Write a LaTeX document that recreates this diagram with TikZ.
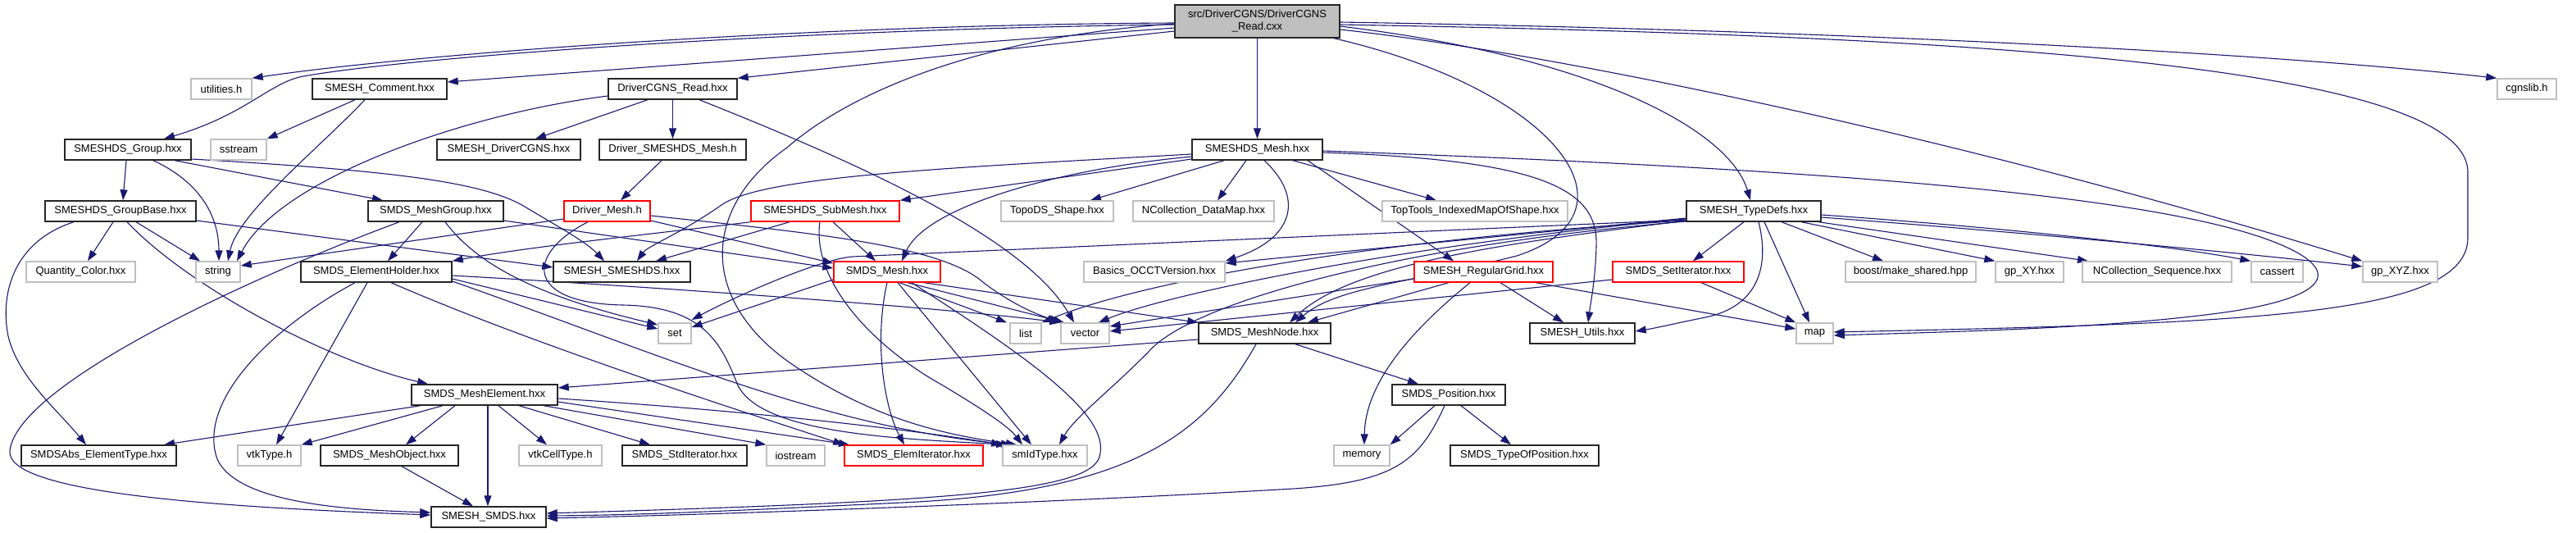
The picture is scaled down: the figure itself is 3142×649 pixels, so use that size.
\documentclass[tikz,border=0pt]{standalone}
\usepackage{fontspec}
\setmainfont{Liberation Sans}
\usetikzlibrary{arrows.meta}
\definecolor{edgec}{HTML}{191970}
\definecolor{grayb}{HTML}{BFBFBF}
\pgfdeclarelayer{bg}
\pgfsetlayers{bg,main}
\tikzset{
  nd/.style={draw=black!85, fill=white, line width=1.4pt, minimum height=25pt, inner sep=0pt,
    font=\fontsize{13}{15}\selectfont, text=black},
  gr/.style={nd, draw=grayb},
  rd/.style={nd, draw=red},
  e/.style={draw=edgec, line width=1.1pt, -{Triangle[length=13pt,width=9pt]}},
}
\begin{document}
\begin{tikzpicture}[x=1pt,y=-1pt]
\useasboundingbox (0,0) rectangle (3142,649);
% row 0
\node[nd, fill=grayb, minimum width=201pt, minimum height=40pt, align=center] (root) at (1533.5,26) {src/DriverCGNS/DriverCGNS\\\_Read.cxx};
% row 1
\node[gr, minimum width=74pt]  (util)    at (270,108.5)  {utilities.h};
\node[nd, minimum width=164pt] (comment) at (463,108.5)  {SMESH\_Comment.hxx};
\node[nd, minimum width=157pt] (dread)   at (820.5,108.5) {DriverCGNS\_Read.hxx};
\node[gr, minimum width=72pt]  (cgns)    at (3082,108.5) {cgnslib.h};
% row 2
\node[nd, minimum width=154pt] (group)   at (156,182.5)  {SMESHDS\_Group.hxx};
\node[gr, minimum width=68pt]  (sstream) at (291,182.5)  {sstream};
\node[nd, minimum width=175pt] (sdcgns)  at (620.5,182.5) {SMESH\_DriverCGNS.hxx};
\node[nd, minimum width=179pt] (dsm)     at (820.5,182.5) {Driver\_SMESHDS\_Mesh.h};
\node[nd, minimum width=159pt] (dsmesh)  at (1533.5,182.5) {SMESHDS\_Mesh.hxx};
% row 3
\node[nd, minimum width=184pt] (gbase)   at (147,257.5)  {SMESHDS\_GroupBase.hxx};
\node[nd, minimum width=165pt] (mgroup)  at (531.5,257.5) {SMDS\_MeshGroup.hxx};
\node[rd, minimum width=105pt] (dmesh)   at (740.5,257.5) {Driver\_Mesh.h};
\node[rd, minimum width=181pt] (submesh) at (1006.5,257.5) {SMESHDS\_SubMesh.hxx};
\node[gr, minimum width=137pt] (topods)  at (1289.5,257.5) {TopoDS\_Shape.hxx};
\node[gr, minimum width=172pt] (ncdm)    at (1468,257.5) {NCollection\_DataMap.hxx};
\node[gr, minimum width=226pt] (toptools) at (1799,257.5) {TopTools\_IndexedMapOfShape.hxx};
\node[nd, minimum width=164pt] (typedefs) at (2139,257.5) {SMESH\_TypeDefs.hxx};
% row 4
\node[gr, minimum width=133pt] (qcolor)  at (98.5,331.5) {Quantity\_Color.hxx};
\node[gr, minimum width=54pt]  (string)  at (266,331.5)  {string};
\node[nd, minimum width=184pt] (eholder) at (459,331.5)  {SMDS\_ElementHolder.hxx};
\node[nd, minimum width=167pt] (ssmeshds) at (758.5,331.5) {SMESH\_SMESHDS.hxx};
\node[rd, minimum width=130pt] (smesh)   at (1082,331.5) {SMDS\_Mesh.hxx};
\node[gr, minimum width=172pt] (occt)    at (1408,331.5) {Basics\_OCCTVersion.hxx};
\node[rd, minimum width=169pt] (rgrid)   at (1809.5,331.5) {SMESH\_RegularGrid.hxx};
\node[rd, minimum width=160pt] (setit)   at (2047,331.5) {SMDS\_SetIterator.hxx};
\node[gr, minimum width=159pt] (boost)   at (2330.5,331.5) {boost/make\_shared.hpp};
\node[gr, minimum width=83pt]  (gpxy)    at (2475.5,331.5) {gp\_XY.hxx};
\node[gr, minimum width=182pt] (ncseq)   at (2631,331.5) {NCollection\_Sequence.hxx};
\node[gr, minimum width=63pt]  (cassert) at (2777.5,331.5) {cassert};
\node[gr, minimum width=91pt]  (gpxyz)   at (2927.5,331.5) {gp\_XYZ.hxx};
% row 5
\node[gr, minimum width=40pt]  (set)     at (823,406.5)  {set};
\node[gr, minimum width=38pt]  (list)    at (1251,406.5) {list};
\node[gr, minimum width=59pt]  (vector)  at (1323.5,406.5) {vector};
\node[nd, minimum width=161pt] (mnode)   at (1542.5,406.5) {SMDS\_MeshNode.hxx};
\node[nd, minimum width=128pt] (utils)   at (1930,406.5) {SMESH\_Utils.hxx};
\node[gr, minimum width=45pt]  (map)     at (2213.5,406.5) {map};
% row 6
\node[nd, minimum width=178pt] (melem)   at (591,481.5)  {SMDS\_MeshElement.hxx};
\node[nd, minimum width=138pt] (pos)     at (1767,481.5) {SMDS\_Position.hxx};
% row 7
\node[nd, minimum width=189pt] (abs)     at (120.5,555.5) {SMDSAbs\_ElementType.hxx};
\node[gr, minimum width=77pt]  (vtktype) at (328.5,555.5) {vtkType.h};
\node[nd, minimum width=168pt] (mobj)    at (475,555.5)  {SMDS\_MeshObject.hxx};
\node[gr, minimum width=101pt] (vtkcell) at (683.5,555.5) {vtkCellType.h};
\node[nd, minimum width=152pt] (stdit)   at (835,555.5)  {SMDS\_StdIterator.hxx};
\node[gr, minimum width=71pt]  (iostream) at (970.5,555.5) {iostream};
\node[rd, minimum width=169pt] (elemit)  at (1114.5,555.5) {SMDS\_ElemIterator.hxx};
\node[gr, minimum width=103pt] (smid)    at (1274.5,555.5) {smIdType.hxx};
\node[gr, minimum width=68pt]  (memory)  at (1661,555.5) {memory};
\node[nd, minimum width=181pt] (typos)   at (1859.5,555.5) {SMDS\_TypeOfPosition.hxx};
% row 8
\node[nd, minimum width=140pt] (smds)    at (596,630.5) {SMESH\_SMDS.hxx};

\begin{pgfonlayer}{bg}
% root
\draw[e] (root.west|-0,28) .. controls (1000,30) and (520,64) .. (util.north east);
\draw[e] (root.west|-0,30) .. controls (950,36) and (500,70) .. (370,93) .. controls (330,100) and (300,140) .. (group.north -| 200,0);
\draw[e] (root.west|-0,34) -- (comment.east|-0,100);
\draw[e] (root.west|-0,38) -- (dread.north east);
\draw[e] (root) -- (dsmesh);
\draw[e] (root.west|-0,29) .. controls (1200,45) and (1040,110) .. (960,180) .. controls (860,250) and (850,360) .. (960,440) .. controls (1060,510) and (1150,530) .. (smid.north -| 1240,0);
\draw[e] (root.east|-0,32) .. controls (1950,70) and (2110,160) .. (typedefs.north -| 2135,0);
\draw[e] (root.east|-0,27) .. controls (2300,38) and (2800,68) .. (cgns.north west);
\draw[e] (root.east|-0,30) .. controls (2300,42) and (3010,70) .. (3010,210) -- (3010,290) .. controls (3010,385) and (2750,394) .. (map.east|-0,405);
\draw[e] (root.east|-0,36) .. controls (1900,65) and (2400,170) .. (gpxyz.north west);
\draw[e] (root.south -| 1627,0) .. controls (1900,110) and (2010,260) .. (1850,312) .. controls (1720,345) and (1630,350) .. (mnode.north -| 1580,0);
% comment
\draw[e] (comment.south -| 433,0) -- (sstream.north east);
\draw[e] (comment.south -| 445,0) .. controls (390,180) and (290,260) .. (string.north -| 278,0);
% dread
\draw[e] (dread.south -| 790,0) -- (sdcgns.north -| 653,0);
\draw[e] (dread) -- (dsm);
\draw[e] (dread.west|-0,117) .. controls (560,140) and (340,220) .. (string.north -| 289,0);
\draw[e] (dread.south -| 853,0) .. controls (1050,200) and (1250,290) .. (vector.north -| 1310,0);
% dsm
\draw[e] (dsm.south -| 807,0) -- (dmesh.north -| 757,0);
% dsmesh
\draw[e] (dsmesh.west|-0,188) .. controls (1150,205) and (930,215) .. (880,250) .. controls (830,285) and (790,300) .. (ssmeshds.north -| 777,0);
\draw[e] (dsmesh.west|-0,194) -- (submesh.north east);
\draw[e] (dsmesh.west|-0,191) .. controls (1300,205) and (1130,250) .. (smesh.north -| 1100,0);
\draw[e] (dsmesh.south -| 1493,0) -- (topods.north -| 1330,0);
\draw[e] (dsmesh.south -| 1520,0) -- (ncdm.north -| 1485,0);
\draw[e] (dsmesh.south -| 1577,0) -- (toptools.north -| 1752,0);
\draw[e] (dsmesh.south -| 1542,0) .. controls (1590,240) and (1580,290) .. (occt.north east);
\draw[e] (dsmesh.south -| 1595,0) -- (rgrid.north -| 1773,0);
\draw[e] (dsmesh.east|-0,186) .. controls (1880,195) and (1950,230) .. (1947,300) .. controls (1946,340) and (1940,370) .. (utils.north -| 1937,0);
\draw[e] (dsmesh.east|-0,184) .. controls (2200,205) and (2600,235) .. (2760,290) .. controls (2860,325) and (2850,360) .. (2720,380) .. controls (2580,400) and (2400,404) .. (map.east|-0,409);
% submesh
\draw[e] (submesh.south west) .. controls (800,285) and (650,300) .. (eholder.north east);
\draw[e] (submesh.south -| 963,0) -- (ssmeshds.north -| 800,0);
\draw[e] (submesh.south -| 1016,0) -- (smesh.north -| 1068,0);
\draw[e] (submesh.south -| 1000,0) .. controls (990,340) and (1060,420) .. (1150,470) .. controls (1200,500) and (1230,520) .. (smid.north -| 1247,0);
% dmesh
\draw[e] (dmesh.west|-0,267) -- (string.east|-0,324);
\draw[e] (dmesh.east|-0,269) -- (smesh.west|-0,321);
\draw[e] (dmesh.east|-0,263) .. controls (1000,285) and (1150,300) .. (1200,345) .. controls (1240,375) and (1270,385) .. (vector.north west);
\draw[e] (dmesh.south -| 717,0) .. controls (640,310) and (640,370) .. (760,372) .. controls (860,374) and (880,420) .. (900,470) .. controls (930,530) and (1100,535) .. (smid.north -| 1228,0);
% eholder
\draw[e] (eholder.east|-0,340) -- (set.west|-0,401);
\draw[e] (eholder.east|-0,336) .. controls (800,350) and (1150,375) .. (vector.north west);
\draw[e] (eholder.south -| 477,0) .. controls (650,420) and (900,500) .. (elemit.north west);
\draw[e] (eholder.east|-0,343) .. controls (800,430) and (1000,520) .. (smid.north -| 1234,0);
\draw[e] (eholder.south -| 448,0) -- (vtktype.north -| 337,0);
\draw[e] (eholder.south -| 433,0) .. controls (330,400) and (240,490) .. (265,560) .. controls (290,615) and (430,622) .. (smds.west|-0,625);
% mgroup
\draw[e] (mgroup.south -| 515,0) -- (eholder.north -| 473,0);
\draw[e] (mgroup.south -| 487,0) .. controls (300,340) and (20,470) .. (12,550) .. controls (8,600) and (250,618) .. (smds.west|-0,628);
\draw[e] (mgroup.south -| 543,0) .. controls (580,320) and (650,360) .. (set.west|-0,396);
\draw[e] (mgroup.east|-0,269) -- (smesh.west|-0,327);
% gbase
\draw[e] (gbase.south -| 138,0) -- (qcolor.north -| 107,0);
\draw[e] (gbase.south -| 166,0) -- (string.north -| 244,0);
\draw[e] (gbase.east|-0,269) -- (ssmeshds.west|-0,326);
\draw[e] (gbase.south -| 90,0) .. controls (15,295) and (0,360) .. (10,410) .. controls (22,460) and (70,500) .. (abs.north -| 105,0);
\draw[e] (gbase.south -| 155,0) .. controls (230,350) and (400,440) .. (melem.north -| 522,0);
% group
\draw[e] (group.south -| 154,0) -- (gbase.north -| 150,0);
\draw[e] (group.south -| 187,0) .. controls (250,225) and (267,270) .. (string.north -| 267,0);
\draw[e] (group.south -| 213,0) -- (mgroup.north -| 467,0);
\draw[e] (group.east|-0,194) .. controls (480,208) and (590,222) .. (640,252) .. controls (680,276) and (715,295) .. (ssmeshds.north -| 737,0);
% melem
\draw[e] (melem.south -| 513,0) -- (abs.north -| 200,0);
\draw[e] (melem.south -| 540,0) -- (vtktype.north east);
\draw[e] (melem.south -| 555,0) -- (mobj.north -| 495,0);
\draw[e] (melem.south -| 595,0) -- (smds.north -| 595,0);
\draw[e] (melem.south -| 608,0) -- (vtkcell.north -| 667,0);
\draw[e] (melem.south -| 633,0) -- (stdit.north -| 793,0);
\draw[e] (melem.south -| 663,0) -- (iostream.north west);
\draw[e] (melem.east|-0,490) -- (elemit.north -| 1036,0);
\draw[e] (melem.east|-0,486) .. controls (900,500) and (1100,522) .. (smid.north west);
% mobj
\draw[e] (mobj.south -| 490,0) -- (smds.north -| 577,0);
% mnode
\draw[e] (mnode.west|-0,414) -- (melem.east|-0,473);
\draw[e] (mnode.south -| 1580,0) -- (pos.north -| 1730,0);
\draw[e] (mnode.south -| 1532,0) .. controls (1470,530) and (1380,600) .. (1100,613) .. controls (950,620) and (800,628) .. (smds.east|-0,629);
% pos
\draw[e] (pos.south -| 1750,0) -- (memory.north east);
\draw[e] (pos.south -| 1782,0) -- (typos.north -| 1843,0);
\draw[e] (pos.south -| 1762,0) .. controls (1730,565) and (1700,590) .. (1560,597) .. controls (1300,612) and (900,627) .. (smds.east|-0,632);
% smesh
\draw[e] (smesh.west|-0,341) -- (set.east|-0,399);
\draw[e] (smesh.south -| 1097,0) -- (list.north -| 1228,0);
\draw[e] (smesh.south -| 1107,0) -- (vector.north -| 1298,0);
\draw[e] (smesh.south -| 1127,0) -- (mnode.north west);
\draw[e] (smesh.south -| 1082,0) .. controls (1065,420) and (1080,500) .. (elemit.north -| 1103,0);
\draw[e] (smesh.south -| 1095,0) -- (smid.north -| 1258,0);
\draw[e] (smesh.south -| 1112,0) .. controls (1260,440) and (1360,510) .. (1340,560) .. controls (1320,600) and (1150,612) .. (smds.east|-0,626);
% rgrid
\draw[e] (rgrid.south -| 1830,0) -- (utils.north -| 1907,0);
\draw[e] (rgrid.south -| 1793,0) .. controls (1700,420) and (1665,480) .. (memory.north -| 1664,0);
\draw[e] (rgrid.south -| 1767,0) -- (mnode.north -| 1595,0);
\draw[e] (rgrid.south -| 1873,0) -- (map.west|-0,401);
\draw[e] (rgrid.west|-0,340) -- (vector.east|-0,398);
% setit
\draw[e] (setit.south -| 2075,0) -- (map.north west);
\draw[e] (setit.west|-0,341) -- (vector.east|-0,404);
% typedefs
\draw[e] (typedefs.south -| 2127,0) -- (setit.north -| 2065,0);
\draw[e] (typedefs.south -| 2173,0) -- (boost.north -| 2297,0);
\draw[e] (typedefs.south -| 2197,0) -- (gpxy.north west);
\draw[e] (typedefs.south -| 2218,0) -- (ncseq.north -| 2547,0);
\draw[e] (typedefs.east|-0,262) .. controls (2450,278) and (2650,300) .. (cassert.north west);
\draw[e] (typedefs.east|-0,265) .. controls (2450,282) and (2700,305) .. (gpxyz.west|-0,325);
\draw[e] (typedefs.south -| 2152,0) -- (map.north -| 2207,0);
\draw[e] (typedefs.south -| 2145,0) .. controls (2160,330) and (2140,375) .. (2080,387) .. controls (2050,393) and (2020,400) .. (utils.east|-0,404);
\draw[e] (typedefs.west|-0,266) -- (occt.east|-0,321);
\draw[e] (typedefs.west|-0,268) -- (1040,313) .. controls (1000,316) and (900,360) .. (set.east|-0,390);
\draw[e] (typedefs.west|-0,269) .. controls (1700,290) and (1400,340) .. (list.north east);
\draw[e] (typedefs.west|-0,267) .. controls (1700,300) and (1420,360) .. (vector.north -| 1340,0);
\draw[e] (typedefs.west|-0,270) .. controls (1700,300) and (1450,370) .. (1400,430) .. controls (1350,480) and (1310,510) .. (smid.north -| 1292,0);
\draw[e] (typedefs.west|-0,269) .. controls (1850,295) and (1650,320) .. (mnode.north -| 1573,0);
\end{pgfonlayer}
\end{tikzpicture}
\end{document}
